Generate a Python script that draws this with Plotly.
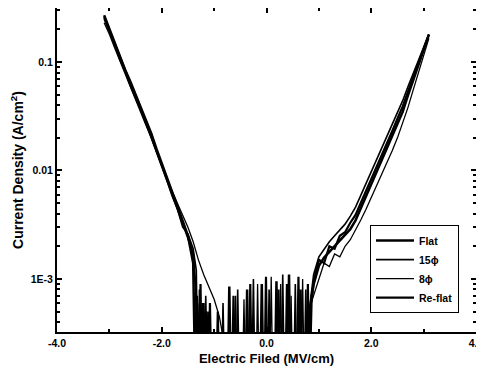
import plotly.graph_objects as go

# ---- data ----
x_left = [-3.1, -3.0, -2.9, -2.8, -2.7, -2.6, -2.5, -2.4, -2.3, -2.2, -2.1,
          -2.0, -1.9, -1.8, -1.7, -1.6, -1.5, -1.4]
x_right = [0.9, 1.0, 1.1, 1.2, 1.3, 1.4, 1.5, 1.6, 1.7, 1.8, 1.9, 2.0, 2.1,
           2.2, 2.3, 2.4, 2.5, 2.6, 2.7, 2.8, 2.9, 3.0, 3.1]

flat_left = [0.27, 0.20, 0.15, 0.112, 0.085, 0.066, 0.050, 0.038, 0.029, 0.022,
             0.0158, 0.0115, 0.0085, 0.0063, 0.0047, 0.0035, 0.0025, 0.0014]
flat_noise_x = [-1.36, -1.33, -1.3, -1.27, -1.24, -1.21, -1.18, -1.15, -1.12,
                -0.74, -0.71, -0.68, -0.4, -0.37, -0.34, -0.12, -0.09, -0.06,
                0.16, 0.19, 0.22, 0.4, 0.43, 0.46, 0.62, 0.65, 0.68, 0.84]
flat_noise_y = [1e-4, 7e-4, 1e-4, 6e-4, 1e-4, 5e-4, 1e-4, 4e-4, 1e-4,
                1e-4, 8.5e-4, 1e-4, 1e-4, 8e-4, 1e-4, 1e-4, 9e-4, 1e-4,
                1e-4, 9.5e-4, 1e-4, 1e-4, 1.1e-3, 1e-4, 1e-4, 8e-4, 1e-4, 6e-4]
flat_right = [8.9e-4, 1.32e-3, 1.58e-3, 1.78e-3, 2.0e-3, 2.24e-3, 2.51e-3,
              2.88e-3, 3.47e-3, 4.47e-3, 5.75e-3, 7.41e-3, 9.55e-3, 1.23e-2,
              1.58e-2, 2.04e-2, 2.63e-2, 3.47e-2, 4.90e-2, 6.76e-2, 9.33e-2,
              0.129, 0.178]

p15_left = [0.25, 0.19, 0.145, 0.105, 0.082, 0.060, 0.047, 0.036, 0.027, 0.020,
            0.0150, 0.0108, 0.0080, 0.0058, 0.0044, 0.0030, 0.0026, 0.0019]
p15_noise_x = [-1.34, -1.31, -1.28, -1.25, -1.22, -1.19, -1.16, -1.13, -1.1, -1.07,
               -0.86, -0.83, -0.8, -0.58, -0.55, -0.52, -0.28, -0.25, -0.22,
               0.02, 0.05, 0.08, 0.28, 0.31, 0.34, 0.52, 0.55, 0.58,
               0.72, 0.75, 0.78, 0.85]
p15_noise_y = [1.2e-3, 1e-4, 8e-4, 1e-4, 6e-4, 1e-4, 7e-4, 1e-4, 5e-4, 1e-4,
               1e-4, 6e-4, 1e-4, 1e-4, 8e-4, 1e-4, 1e-4, 1.0e-3, 1e-4,
               1e-4, 8e-4, 1e-4, 1e-4, 1.1e-3, 1e-4, 1e-4, 9e-4, 1e-4,
               1e-4, 8e-4, 1e-4, 7e-4]
p15_right = [1.1e-3, 1.6e-3, 1.9e-3, 2.2e-3, 2.5e-3, 2.8e-3, 3.2e-3, 3.8e-3,
             4.6e-3, 5.9e-3, 7.6e-3, 9.8e-3, 1.26e-2, 1.6e-2, 2.05e-2, 2.65e-2,
             3.4e-2, 4.4e-2, 5.9e-2, 7.8e-2, 0.104, 0.138, 0.18]

p8_left = [0.23, 0.18, 0.135, 0.102, 0.078, 0.060, 0.045, 0.034, 0.026, 0.020,
           0.0148, 0.0110, 0.0083, 0.0064, 0.0050, 0.0038, 0.0030, 0.0022]
p8_noise_x = [-1.3, -1.2, -1.1, -1.0, -0.9, -0.85, -0.8, -0.62, -0.59, -0.56,
              -0.46, -0.43, -0.4, -0.2, -0.17, -0.14, 0.06, 0.09, 0.12,
              0.24, 0.27, 0.3, 0.44, 0.47, 0.5, 0.66, 0.69, 0.72, 0.8]
p8_noise_y = [1.5e-3, 1.1e-3, 8.5e-4, 6.5e-4, 4.5e-4, 3.3e-4, 1e-4, 1e-4, 7e-4, 1e-4,
              1e-4, 6.5e-4, 1e-4, 1e-4, 9e-4, 1e-4, 1e-4, 1.05e-3, 1e-4,
              1e-4, 9e-4, 1e-4, 1e-4, 7e-4, 1e-4, 1e-4, 1.0e-3, 1e-4, 5e-4]
p8_right = [7e-4, 1.0e-3, 1.4e-3, 1.3e-3, 1.7e-3, 1.6e-3, 2.0e-3, 2.3e-3,
            2.8e-3, 3.5e-3, 4.4e-3, 5.6e-3, 7.2e-3, 9.2e-3, 1.18e-2, 1.52e-2,
            2.0e-2, 2.7e-2, 3.8e-2, 5.5e-2, 8.0e-2, 0.115, 0.165]

reflat_left = [0.26, 0.195, 0.148, 0.11, 0.083, 0.064, 0.049, 0.037, 0.028, 0.021,
               0.0152, 0.0112, 0.0082, 0.006, 0.0045, 0.0033, 0.0024, 0.0017]
reflat_noise_x = [-1.35, -1.3, -1.26, -1.23, -1.2, -1.17, -1.14, -1.11, -1.08, -1.05,
                  -0.96, -0.93, -0.9, -0.66, -0.63, -0.6, -0.34, -0.31, -0.28,
                  -0.04, -0.01, 0.02, 0.2, 0.23, 0.26, 0.36, 0.39, 0.42,
                  0.58, 0.61, 0.64, 0.76, 0.79, 0.82, 0.86]
reflat_noise_y = [8e-4, 1e-4, 9e-4, 1e-4, 6e-4, 1e-4, 5e-4, 1e-4, 6e-4, 1e-4,
                  1e-4, 5e-4, 1e-4, 1e-4, 7e-4, 1e-4, 1e-4, 9e-4, 1e-4,
                  1e-4, 1.05e-3, 1e-4, 1e-4, 8e-4, 1e-4, 1e-4, 9e-4, 1e-4,
                  1e-4, 1.05e-3, 1e-4, 1e-4, 9e-4, 1e-4, 6e-4]
reflat_right = [9.5e-4, 1.5e-3, 1.4e-3, 2.0e-3, 1.9e-3, 2.5e-3, 2.7e-3, 3.3e-3,
                3.9e-3, 5.0e-3, 6.5e-3, 8.4e-3, 1.08e-2, 1.4e-2, 1.8e-2, 2.3e-2,
                3.0e-2, 3.9e-2, 5.3e-2, 7.2e-2, 9.8e-2, 0.132, 0.18]

series_names = ["Flat", "15ϕ", "8ϕ", "Re-flat"]
x_tick_vals = [-4, -2, 0, 2, 4]
x_tick_text = ["-4.0", "-2.0", "0.0", "2.0", "4.0"]
y_tick_vals = [0.001, 0.01, 0.1]
y_tick_text = ["1E-3", "0.01", "0.1"]

series = [
    (series_names[0], flat_left, flat_noise_x, flat_noise_y, flat_right, 2.5),
    (series_names[1], p15_left, p15_noise_x, p15_noise_y, p15_right, 1.6),
    (series_names[2], p8_left, p8_noise_x, p8_noise_y, p8_right, 1.3),
    (series_names[3], reflat_left, reflat_noise_x, reflat_noise_y, reflat_right, 2.2),
]

fig = go.Figure()
for name, yl, nx, ny, yr, w in series:
    fig.add_trace(go.Scatter(
        x=x_left + nx + x_right,
        y=yl + ny + yr,
        mode="lines",
        name=name,
        line=dict(color="black", width=w),
    ))

FAM = "Liberation Sans, Arial, sans-serif"
tick_font = dict(family=FAM, size=10.5, color="black", weight="bold")

minor_y = [4e-4, 5e-4, 6e-4, 7e-4, 8e-4, 9e-4,
           2e-3, 3e-3, 4e-3, 5e-3, 6e-3, 7e-3, 8e-3, 9e-3,
           2e-2, 3e-2, 4e-2, 5e-2, 6e-2, 7e-2, 8e-2, 9e-2, 0.2, 0.3]

# the page body has an 8px margin, so the figure is sized to fit the rest of the window
fig.update_layout(
    width=476, height=358,
    margin=dict(l=49, r=8, t=0, b=34, autoexpand=False),
    paper_bgcolor="white", plot_bgcolor="white",
    font=tick_font,
    showlegend=True,
    legend=dict(
        x=0.747, y=0.33, xanchor="left", yanchor="top",
        bgcolor="white", bordercolor="black", borderwidth=1,
        font=dict(family=FAM, size=10.5, color="black", weight="bold"),
        tracegroupgap=0, itemwidth=38,
    ),
    xaxis=dict(
        range=[-4, 4], tickmode="array", tickvals=x_tick_vals, ticktext=x_tick_text,
        ticks="inside", ticklen=5, tickwidth=1.5, tickcolor="black",
        showline=True, linecolor="black", linewidth=2, mirror="ticks",
        showgrid=False, zeroline=False, automargin=False,
        ticklabeloverflow="allow",
        minor=dict(tickmode="array", tickvals=[-3, -1, 1, 3], ticks="inside",
                   ticklen=3, tickcolor="black", showgrid=False),
        title=dict(text="Electric Filed (MV/cm)", standoff=9,
                   font=dict(family=FAM, size=13, color="black", weight="bold")),
        tickfont=tick_font,
    ),
    yaxis=dict(
        type="log", range=[-3.489, -0.502],
        tickmode="array", tickvals=y_tick_vals, ticktext=y_tick_text,
        ticks="inside", ticklen=5, tickwidth=1.5, tickcolor="black",
        showline=True, linecolor="black", linewidth=2, mirror="ticks",
        showgrid=False, zeroline=False, automargin=False,
        minor=dict(tickmode="array", tickvals=minor_y, ticks="inside",
                   ticklen=3, tickcolor="black", showgrid=False),
        title=dict(text="Current Density (A/cm<sup>2</sup>)", standoff=8,
                   font=dict(family=FAM, size=14, color="black", weight="bold")),
        tickfont=tick_font,
    ),
)

fig.write_html("out.html")
